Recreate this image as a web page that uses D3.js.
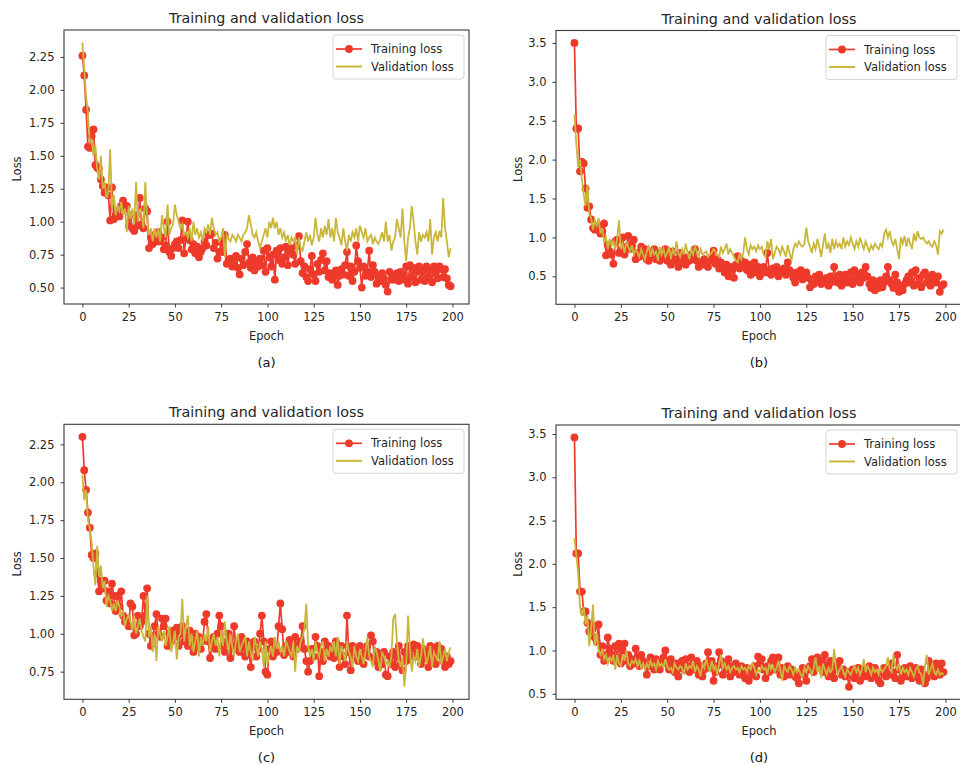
<!DOCTYPE html>
<html lang="en">
<head>
  <meta charset="UTF-8">
  <title>Training and validation loss</title>
  <script src="https://d3js.org/d3.v7.min.js"></script>
  <style>
    body {
      margin: 0;
      background: #fff;
    }
    svg {
      display: block;
      font-family: "DejaVu Sans", sans-serif;
    }
  </style>
</head>
<body>
  <svg id="chart" width="960" height="765"></svg>

  <script>
    // Tick values shared by all four panels.
    const xTicks = [0, 25, 50, 75, 100, 125, 150, 175, 200];
    const yTicksAC = [0.5, 0.75, 1.0, 1.25, 1.5, 1.75, 2.0, 2.25];
    const yTicksBD = [0.5, 1.0, 1.5, 2.0, 2.5, 3.0, 3.5];
    const seriesNames = ["Training loss", "Validation loss"];

    // Loss per epoch (0..199).
    const trainA = [
      2.26, 2.11, 1.85, 1.57, 1.56, 1.65, 1.70, 1.43, 1.41, 1.40,
      1.32, 1.27, 1.22, 1.26, 1.20, 1.01, 1.26, 1.02, 1.05, 1.08,
      1.04, 1.12, 1.16, 1.10, 1.12, 0.97, 1.05, 0.95, 0.93, 1.05,
      0.97, 1.18, 0.98, 0.95, 1.10, 1.08, 0.80, 0.88, 0.83, 0.90,
      0.85, 0.92, 0.85, 0.88, 0.79, 0.82, 1.00, 0.77, 0.74, 0.80,
      0.83, 0.85, 0.80, 0.86, 1.01, 0.76, 0.88, 1.00, 0.86, 0.79,
      0.83, 0.76, 0.81, 0.73, 0.77, 0.80, 0.85, 0.82, 0.90, 0.90,
      0.91, 0.80, 0.84, 0.72, 0.77, 0.85, 0.77, 0.90, 0.68, 0.71,
      0.72, 0.66, 0.70, 0.74, 0.65, 0.60, 0.72, 0.67, 0.77, 0.83,
      0.69, 0.65, 0.73, 0.63, 0.70, 0.66, 0.72, 0.67, 0.78, 0.62,
      0.80, 0.73, 0.66, 0.75, 0.56, 0.78, 0.71, 0.80, 0.68, 0.73,
      0.81, 0.67, 0.77, 0.80, 0.75, 0.68, 0.82, 0.89, 0.70, 0.61,
      0.66, 0.58, 0.55, 0.64, 0.74, 0.60, 0.55, 0.68, 0.62, 0.71,
      0.76, 0.63, 0.70, 0.58, 0.61, 0.56, 0.60, 0.63, 0.52, 0.59,
      0.64, 0.60, 0.67, 0.77, 0.59, 0.66, 0.55, 0.62, 0.82, 0.70,
      0.65, 0.50, 0.66, 0.59, 0.62, 0.78, 0.58, 0.67, 0.62, 0.53,
      0.58, 0.55, 0.61, 0.57, 0.52, 0.47, 0.62, 0.56, 0.58, 0.56,
      0.61, 0.55, 0.62, 0.60, 0.56, 0.66, 0.53, 0.67, 0.58, 0.65,
      0.54, 0.62, 0.66, 0.56, 0.63, 0.55, 0.66, 0.58, 0.64, 0.54,
      0.66, 0.61, 0.57, 0.66, 0.64, 0.58, 0.64, 0.57, 0.52, 0.51
    ];
    const valA = [
      2.36, 2.15, 1.95, 1.82, 1.60, 1.62, 1.50, 1.58, 1.40, 1.32,
      1.50, 1.25, 1.30, 1.18, 1.22, 1.55, 1.10, 1.20, 1.05, 1.12,
      1.08, 1.15, 1.05, 1.10, 0.92, 1.12, 1.02, 1.10, 0.98, 1.30,
      1.00, 1.10, 1.05, 0.95, 1.30, 1.00, 0.90, 0.95, 0.85, 0.95,
      0.88, 0.95, 0.85, 1.05, 0.95, 0.88, 1.13, 0.90, 0.95, 0.98,
      1.13, 1.05, 1.00, 0.95, 0.98, 0.90, 0.92, 0.88, 0.95, 0.85,
      1.00, 0.90, 0.95, 0.88, 0.92, 0.85, 0.95, 0.92, 0.98, 0.90,
      1.03, 0.95, 0.90, 0.92, 0.85, 0.88, 0.95, 0.73, 0.90, 0.87,
      0.85, 0.90, 0.88, 0.85, 0.90, 0.88, 0.85, 0.90, 0.92, 0.95,
      1.05, 0.98, 0.90, 0.88, 0.92, 0.85, 0.80, 0.85, 0.90, 0.95,
      0.88, 1.00, 0.95, 1.03, 0.95, 1.00, 0.90, 0.95, 0.88, 0.92,
      0.85, 0.90, 0.82, 0.88, 0.85, 0.88, 0.75, 0.88, 0.80, 0.78,
      0.85, 0.92, 0.85, 0.90, 0.82, 0.88, 1.03, 0.90, 0.85, 0.95,
      0.88, 0.97, 0.90, 1.02, 0.88, 0.95, 0.85, 1.03, 0.92, 0.88,
      0.82, 0.95, 0.85, 0.78, 0.90, 0.85, 0.92, 0.88, 0.95, 0.85,
      0.97, 0.92, 0.88, 0.95, 0.85, 0.88, 0.90, 0.83, 0.88, 0.85,
      0.83, 0.87, 0.92, 0.85, 1.00, 0.85, 0.90, 0.78, 0.85, 0.88,
      1.02, 0.95, 0.88, 1.10, 0.85, 0.70, 0.88, 0.95, 1.12, 1.00,
      0.85, 0.75, 0.92, 0.85, 0.90, 0.88, 0.92, 0.85, 1.02, 0.75,
      0.88, 0.92, 0.85, 0.93, 0.88, 1.18, 0.95, 0.85, 0.73, 0.80
    ];
    const trainB = [
      3.50, 2.40, 2.40, 1.85, 1.97, 1.95, 1.63, 1.38, 1.40, 1.23,
      1.12, 1.10, 1.12, 1.15, 1.05, 1.08, 1.18, 0.77, 0.90, 0.82,
      0.78, 0.66, 0.95, 0.97, 0.80, 0.83, 1.00, 0.78, 0.88, 1.02,
      0.85, 0.90, 0.97, 0.72, 0.80, 0.75, 0.88, 0.78, 0.85, 0.72,
      0.70, 0.80, 0.75, 0.85, 0.72, 0.80, 0.70, 0.78, 0.74, 0.85,
      0.70, 0.76, 0.65, 0.82, 0.70, 0.72, 0.62, 0.80, 0.68, 0.75,
      0.65, 0.72, 0.70, 0.78, 0.72, 0.85, 0.70, 0.62, 0.68, 0.65,
      0.72, 0.68, 0.62, 0.70, 0.75, 0.83, 0.66, 0.72, 0.60, 0.68,
      0.62, 0.55, 0.65, 0.50, 0.62, 0.58, 0.48, 0.65, 0.76, 0.60,
      0.70, 0.62, 0.68, 0.58, 0.65, 0.52, 0.60, 0.68, 0.55, 0.62,
      0.50, 0.58, 0.62, 0.55, 0.80, 0.58, 0.52, 0.60, 0.55, 0.62,
      0.50, 0.58, 0.55, 0.60, 0.52, 0.68, 0.58, 0.55, 0.48, 0.42,
      0.55, 0.50, 0.58, 0.46, 0.52, 0.55, 0.48, 0.36, 0.45, 0.40,
      0.50, 0.44, 0.52, 0.40, 0.46, 0.42, 0.48, 0.38, 0.50, 0.43,
      0.62, 0.48, 0.42, 0.52, 0.38, 0.46, 0.52, 0.42, 0.48, 0.55,
      0.40, 0.58, 0.45, 0.52, 0.42, 0.55, 0.48, 0.62, 0.50, 0.40,
      0.35, 0.45, 0.32, 0.40, 0.35, 0.45, 0.36, 0.42, 0.50, 0.62,
      0.45, 0.40, 0.35, 0.52, 0.42, 0.30, 0.35, 0.32, 0.40, 0.45,
      0.50, 0.42, 0.55, 0.38, 0.58, 0.40, 0.48, 0.36, 0.52, 0.55,
      0.42, 0.48, 0.38, 0.52, 0.45, 0.42, 0.50, 0.30, 0.38, 0.40
    ];
    const valB = [
      2.58, 2.20, 1.90, 2.00, 1.75, 1.55, 1.40, 1.67, 1.30, 1.25,
      1.10, 1.22, 1.15, 1.25, 1.05, 1.12, 0.95, 1.00, 0.85, 0.98,
      0.90, 0.95, 0.85, 0.98, 1.22, 0.85, 0.92, 0.80, 0.95, 0.88,
      0.82, 0.90, 0.78, 0.85, 0.80, 0.75, 0.85, 0.78, 0.72, 0.82,
      0.90, 0.75, 0.85, 0.78, 0.82, 0.70, 0.88, 0.78, 0.85, 0.75,
      0.80, 0.88, 0.72, 0.85, 0.78, 0.95, 0.80, 0.75, 0.85, 0.78,
      0.92, 0.80, 0.72, 0.85, 0.78, 0.88, 0.82, 0.75, 0.85, 0.78,
      0.80, 0.82, 0.75, 0.78, 0.80, 0.85, 0.82, 0.78, 0.75, 0.88,
      0.80, 0.85, 0.92, 0.78, 0.85, 0.80, 0.75, 0.70, 0.68, 0.78,
      0.72, 0.80, 1.00, 0.85, 0.78, 0.90, 0.85, 0.88, 0.82, 0.90,
      0.85, 0.88, 0.78, 0.75, 0.95, 0.85, 0.98, 0.72, 0.80, 0.88,
      0.85, 0.78, 0.88, 0.82, 0.75, 0.90, 0.80, 0.70, 0.85, 0.92,
      0.88, 0.95, 0.90, 0.88, 0.92, 1.13, 0.95, 0.88, 0.80, 0.92,
      0.85, 0.98, 0.88, 0.75, 0.90, 1.05, 0.85, 0.92, 0.80, 0.98,
      0.85, 0.95, 0.88, 0.92, 0.85, 1.00, 0.88, 0.95, 0.90, 1.00,
      0.92, 0.85, 0.95, 0.88, 1.00, 0.92, 0.85, 0.95, 0.88, 0.82,
      0.90, 0.85, 0.92, 0.88, 0.85, 0.92, 0.88, 1.05, 1.10, 1.00,
      1.08, 0.95, 0.90, 0.98, 0.85, 0.72, 1.00, 0.92, 1.02, 0.88,
      1.00, 0.92, 0.85, 1.05, 0.95, 1.08, 1.00, 0.98, 1.00, 0.95,
      0.92, 0.95, 0.90, 0.88, 0.95, 0.90, 0.78, 1.08, 1.05, 1.10
    ];
    const trainC = [
      2.30, 2.08, 1.95, 1.80, 1.70, 1.52, 1.50, 1.53, 1.40, 1.28,
      1.35, 1.30, 1.35, 1.22, 1.28, 1.20, 1.33, 1.25, 1.15, 1.25,
      1.18, 1.28, 1.12, 1.08, 1.10, 1.05, 1.20, 1.18, 0.99, 1.00,
      1.12, 1.05, 1.08, 1.25, 1.12, 1.30, 1.00, 0.92, 0.95, 1.05,
      1.13, 1.00, 0.98, 1.10, 1.05, 1.10, 0.92, 1.00, 0.95, 1.02,
      0.98, 1.04, 0.92, 1.00, 1.05, 0.95, 0.98, 0.92, 1.02, 0.95,
      0.88, 1.00, 0.92, 0.98, 0.90, 0.95, 1.08, 1.13, 0.95, 0.84,
      0.92, 0.98, 0.90, 1.00, 1.12, 1.05, 0.92, 0.88, 0.95, 1.00,
      0.84, 0.92, 1.05, 0.90, 0.95, 0.88, 0.98, 0.92, 0.85, 0.95,
      0.88, 0.78, 0.92, 0.95, 0.85, 0.90, 1.00, 1.12, 0.95, 0.75,
      0.73, 0.90, 0.95, 0.85, 0.92, 0.88, 1.05, 1.20, 1.03, 0.86,
      0.92, 0.88, 0.96, 0.92, 0.85, 0.98, 0.90, 0.92, 0.95, 1.05,
      0.90, 0.82, 0.75, 0.82, 0.90, 0.85, 0.98, 0.92, 0.72, 0.88,
      0.82, 0.95, 0.88, 0.92, 0.85, 0.90, 0.84, 0.95, 0.88, 0.78,
      0.92, 0.85, 0.80, 1.12, 0.88, 0.76, 0.92, 0.85, 0.90, 0.82,
      0.92, 0.85, 0.80, 0.88, 0.92, 0.85, 0.99, 0.95, 0.82, 0.88,
      0.78, 0.85, 0.80, 0.88, 0.73, 0.72, 0.85, 0.80, 0.88, 0.78,
      0.85, 0.92, 0.80, 0.76, 0.88, 0.82, 0.92, 0.85, 0.90, 0.93,
      0.85, 0.92, 0.88, 0.80, 0.90, 0.84, 0.88, 0.78, 0.92, 0.82,
      0.88, 0.80, 0.92, 0.86, 0.90, 0.82, 0.78, 0.85, 0.80, 0.82
    ];
    const valC = [
      2.05, 1.88, 1.95, 1.75, 1.70, 1.60, 1.45, 1.32, 1.58, 1.38,
      1.45, 1.30, 1.35, 1.18, 1.25, 1.22, 1.15, 1.20, 1.15, 1.22,
      1.18, 1.12, 1.15, 1.05, 1.10, 1.12, 1.08, 1.02, 1.12, 1.00,
      1.05, 1.10, 1.02, 0.98, 0.95, 1.25, 0.98, 1.05, 0.88, 1.00,
      0.82, 1.05, 1.00, 0.95, 1.02, 0.92, 0.98, 1.05, 0.88, 0.95,
      1.02, 0.83, 0.98, 1.00, 1.23, 0.95, 1.05, 1.12, 0.92, 1.00,
      0.88, 0.95, 1.02, 0.85, 0.98, 0.92, 1.00, 0.95, 1.05, 0.88,
      0.95, 1.00, 0.92, 0.98, 0.85, 1.02, 0.92, 1.08, 0.95, 0.88,
      1.00, 0.92, 0.85, 0.95, 1.00, 0.88, 0.92, 0.95, 0.98, 0.85,
      0.95, 0.88, 0.82, 0.98, 0.92, 0.85, 0.95, 0.90, 0.78, 0.95,
      0.80, 0.88, 0.92, 0.85, 0.98, 0.90, 0.95, 0.88, 0.92, 0.85,
      0.95, 0.92, 0.88, 0.85, 0.95, 0.75, 0.92, 0.88, 0.95, 0.98,
      1.03, 1.20, 0.92, 0.85, 0.90, 0.82, 0.95, 0.88, 0.85, 0.92,
      0.95, 0.82, 0.90, 0.85, 0.92, 0.88, 0.95, 0.85, 0.98, 0.80,
      0.92, 0.88, 0.82, 0.95, 0.88, 0.85, 0.78, 0.92, 0.85, 0.82,
      0.90, 0.85, 0.80, 0.88, 0.98, 0.85, 0.82, 0.78, 0.92, 0.88,
      0.82, 0.75, 0.88, 0.85, 0.80, 0.82, 0.78, 0.85, 1.10, 1.13,
      0.95, 0.82, 0.78, 0.85, 0.65, 0.80, 1.12, 0.90, 0.75, 0.85,
      0.82, 0.90, 0.78, 0.85, 0.97, 0.88, 0.80, 0.85, 0.92, 0.78,
      0.88, 0.85, 0.82, 0.95, 0.80, 0.85, 0.90, 0.82, 0.88, 0.91
    ];
    const trainD = [
      3.46, 2.12, 2.12, 1.68, 1.68, 1.45, 1.45, 1.32, 1.22, 1.30,
      1.25, 1.15, 1.10, 1.30, 0.95, 1.05, 0.88, 0.95, 1.15, 1.02,
      0.95, 0.88, 1.05, 0.92, 1.08, 0.85, 1.00, 1.08, 0.88, 0.95,
      0.82, 0.90, 0.85, 1.02, 0.92, 0.82, 0.95, 0.88, 0.85, 0.72,
      0.82, 0.92, 0.85, 0.78, 0.90, 0.82, 0.78, 0.85, 0.92, 1.00,
      0.85, 0.78, 0.90, 0.82, 0.75, 0.85, 0.70, 0.80, 0.88, 0.78,
      0.90, 0.82, 0.75, 0.92, 0.85, 0.78, 0.88, 0.72, 0.82, 0.70,
      0.78, 0.85, 0.98, 0.80, 0.88, 0.65, 0.75, 0.82, 0.98, 0.88,
      0.72, 0.85, 0.78, 0.90, 0.70, 0.82, 0.75, 0.85, 0.80, 0.72,
      0.82, 0.75, 0.68, 0.80, 0.65, 0.78, 0.72, 0.82, 0.70, 0.93,
      0.85, 0.90, 0.78, 0.68, 0.82, 0.75, 0.88, 0.92, 0.78, 0.85,
      0.92, 0.72, 0.80, 0.70, 0.78, 0.82, 0.72, 0.78, 0.75, 0.70,
      0.68, 0.62, 0.75, 0.80, 0.72, 0.65, 0.78, 0.82, 0.90, 0.75,
      0.85, 0.92, 0.80, 0.88, 0.75, 0.95, 0.82, 0.70, 0.88, 0.75,
      0.68, 0.82, 0.78, 0.88, 0.72, 0.78, 0.70, 0.75, 0.58, 0.72,
      0.78, 0.68, 0.75, 0.80, 0.65, 0.72, 0.78, 0.70, 0.75, 0.82,
      0.68, 0.75, 0.80, 0.72, 0.65, 0.62, 0.75, 0.80, 0.70, 0.78,
      0.72, 0.85, 0.75, 0.68, 0.95, 0.78, 0.65, 0.72, 0.80, 0.70,
      0.75, 0.82, 0.68, 0.75, 0.80, 0.70, 0.65, 0.78, 0.72, 0.62,
      0.68, 0.88, 0.75, 0.82, 0.70, 0.85, 0.80, 0.72, 0.85, 0.75
    ];
    const valD = [
      2.30, 2.10, 1.90, 1.50, 1.40, 1.50, 1.30, 1.40, 1.05, 1.25,
      1.53, 1.05, 1.20, 1.00, 0.95, 1.02, 0.90, 0.95, 0.85, 0.92,
      0.88, 0.95, 0.78, 0.95, 0.85, 0.82, 0.95, 0.88, 1.00, 0.85,
      0.82, 0.88, 0.85, 0.90, 0.82, 0.88, 0.80, 0.85, 0.78, 0.85,
      0.80, 0.88, 0.82, 0.85, 0.78, 0.88, 0.82, 0.85, 0.80, 0.90,
      0.82, 0.78, 0.80, 0.75, 0.85, 0.80, 0.78, 0.82, 0.80, 0.72,
      0.85, 0.78, 0.82, 0.80, 0.88, 0.75, 0.82, 0.78, 0.70, 0.85,
      0.80, 0.90, 0.82, 0.75, 0.88, 0.78, 0.82, 0.72, 0.85, 0.95,
      0.80, 0.85, 0.78, 0.82, 0.75, 0.80, 0.82, 0.78, 0.80, 0.75,
      0.82, 0.78, 0.80, 0.75, 0.82, 0.78, 0.85, 0.80, 0.72, 0.78,
      0.75, 0.82, 0.78, 0.80, 0.72, 0.85, 0.78, 0.82, 0.75, 0.80,
      0.88, 0.78, 0.65, 0.82, 0.78, 0.75, 0.82, 0.78, 0.72, 0.80,
      0.75, 0.78, 0.72, 0.70, 0.80, 0.75, 0.82, 0.78, 0.72, 0.80,
      0.92, 0.75, 0.82, 0.68, 0.85, 0.78, 0.72, 0.80, 0.75, 0.78,
      1.02, 0.80, 0.72, 0.78, 0.82, 0.75, 0.70, 0.78, 0.75, 0.72,
      0.78, 0.82, 0.75, 0.80, 0.72, 0.78, 0.90, 0.75, 0.82, 0.78,
      0.72, 0.80, 0.75, 0.78, 0.72, 0.80, 0.75, 0.78, 0.82, 0.92,
      0.78, 0.75, 0.95, 0.82, 0.78, 0.85, 0.72, 0.80, 0.75, 0.78,
      0.72, 0.80, 0.75, 0.70, 0.78, 0.82, 0.75, 0.72, 0.60, 0.82,
      0.95, 0.72, 0.78, 0.85, 0.75, 0.72, 0.78, 0.72, 0.74, 0.72
    ];

    const RED = "#ee3a2b";
    const YELLOW = "#c9b73b";
    const TEXT = "#262626";
    const SPINE = "#3a3a3a";

    // Layout of each subplot: plot box [left, top, right, bottom].
    const panels = [
      { train: trainA, val: valA, yTicks: yTicksAC, fmt: ".2f", box: [64, 30, 469, 304], tag: "(a)", ylabelGap: 43.5 },
      { train: trainB, val: valB, yTicks: yTicksBD, fmt: ".1f", box: [556, 30.5, 962, 304.3], tag: "(b)", ylabelGap: 34.5 },
      { train: trainC, val: valC, yTicks: yTicksAC, fmt: ".2f", box: [64, 424.3, 469, 699.3], tag: "(c)", ylabelGap: 43.5 },
      { train: trainD, val: valD, yTicks: yTicksBD, fmt: ".1f", box: [556, 425, 962, 699.3], tag: "(d)", ylabelGap: 34.5 }
    ];

    const svg = d3.select("#chart");

    panels.forEach(p => drawPanel(p));

    function drawPanel(p) {
      const [L, T, R, B] = p.box;
      const g = svg.append("g");

      // x: epochs, with matplotlib's 5% margin around 0..199
      const n = p.train.length;
      const xPad = (n - 1) * 0.05;
      const x = d3.scaleLinear().domain([-xPad, n - 1 + xPad]).range([L, R]);

      const [lo, hi] = d3.extent(p.train.concat(p.val));
      const yPad = (hi - lo) * 0.05;
      const y = d3.scaleLinear().domain([lo - yPad, hi + yPad]).range([B, T]);
      const [y0, y1] = y.domain();
      const yTicks = p.yTicks.filter(t => t >= y0 && t <= y1);

      // clip the data to the plot box
      const clipId = "clip" + p.tag.replace(/\W/g, "");
      g.append("clipPath").attr("id", clipId)
        .append("rect").attr("x", L).attr("y", T).attr("width", R - L).attr("height", B - T);

      const plot = g.append("g").attr("clip-path", `url(#${clipId})`);

      const line = d3.line().x((d, i) => x(i)).y(d => y(d));

      // training loss: line with dots
      plot.append("path")
        .datum(p.train)
        .attr("d", line)
        .attr("fill", "none")
        .attr("stroke", RED)
        .attr("stroke-width", 1.7);
      plot.selectAll("circle")
        .data(p.train)
        .enter().append("circle")
        .attr("cx", (d, i) => x(i))
        .attr("cy", d => y(d))
        .attr("r", 3.9)
        .attr("fill", RED);

      // validation loss on top
      plot.append("path")
        .datum(p.val)
        .attr("d", line)
        .attr("fill", "none")
        .attr("stroke", YELLOW)
        .attr("stroke-width", 1.8);

      // axes
      const xAxis = g.append("g")
        .attr("transform", `translate(0,${B})`)
        .call(d3.axisBottom(x).tickValues(xTicks).tickSize(3.5).tickPadding(5).tickSizeOuter(0));
      const yAxis = g.append("g")
        .attr("transform", `translate(${L},0)`)
        .call(d3.axisLeft(y).tickValues(yTicks).tickFormat(d3.format(p.fmt)).tickSize(3.5).tickPadding(6).tickSizeOuter(0));
      [xAxis, yAxis].forEach(a => {
        a.select(".domain").remove();
        a.selectAll("line").attr("stroke", SPINE);
        a.selectAll("text")
          .attr("fill", TEXT)
          .style("font-size", "11.5px")
          .style("font-family", "DejaVu Sans, sans-serif");
      });

      // frame
      g.append("rect")
        .attr("x", L).attr("y", T)
        .attr("width", R - L).attr("height", B - T)
        .attr("fill", "none")
        .attr("stroke", SPINE)
        .attr("stroke-width", 1.1);

      const cx = (L + R) / 2;

      g.append("text")
        .attr("x", cx).attr("y", T - 7)
        .attr("text-anchor", "middle")
        .attr("fill", TEXT)
        .style("font-size", "14.3px")
        .text("Training and validation loss");

      g.append("text")
        .attr("x", cx).attr("y", B + 36)
        .attr("text-anchor", "middle")
        .attr("fill", TEXT)
        .style("font-size", "11.5px")
        .text("Epoch");

      g.append("text")
        .attr("transform", `translate(${L - p.ylabelGap},${(T + B) / 2 + 2}) rotate(-90)`)
        .attr("text-anchor", "middle")
        .attr("fill", TEXT)
        .style("font-size", "11.5px")
        .text("Loss");

      g.append("text")
        .attr("x", cx).attr("y", B + 63)
        .attr("text-anchor", "middle")
        .attr("fill", "#111")
        .style("font-size", "13px")
        .text(p.tag);

      // legend, upper right
      const lgW = 131, lgH = 44;
      const lx = Math.min(R, 960) - 5 - lgW + (R > 960 ? 2 : 0);
      const ly = T + 5;
      const lg = g.append("g").attr("transform", `translate(${lx},${ly})`);
      lg.append("rect")
        .attr("width", lgW).attr("height", lgH)
        .attr("rx", 3)
        .attr("fill", "#fff").attr("fill-opacity", 0.85)
        .attr("stroke", "#d4d4d4");
      seriesNames.forEach((name, i) => {
        const ry = 14 + i * 17.5;
        const color = i === 0 ? RED : YELLOW;
        lg.append("line")
          .attr("x1", 3).attr("x2", 29)
          .attr("y1", ry).attr("y2", ry)
          .attr("stroke", color)
          .attr("stroke-width", i === 0 ? 1.7 : 2);
        if (i === 0) {
          lg.append("circle").attr("cx", 16).attr("cy", ry).attr("r", 3.9).attr("fill", color);
        }
        lg.append("text")
          .attr("x", 38).attr("y", ry + 4)
          .attr("fill", TEXT)
          .style("font-size", "11.5px")
          .text(name);
      });
    }
  </script>
</body>
</html>
